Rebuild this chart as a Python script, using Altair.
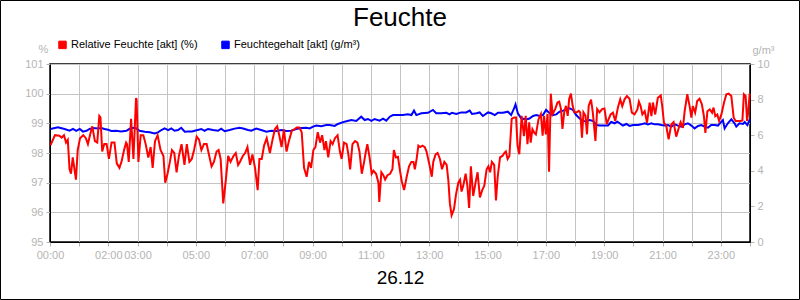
import altair as alt
import pandas as pd

# Relative humidity (%) – time in hours, value
rh_time = [0.02,0.17,0.32,0.40,0.48,0.55,0.61,0.67,0.72,0.78,0.89,0.95,1.03,1.14,1.23,1.30,1.37,1.45,1.54,1.62,
           1.69,1.73,1.79,1.86,1.94,2.02,2.11,2.21,2.29,2.38,2.45,2.54,2.61,2.64,2.70,2.78,2.86,2.95,2.97,3.03,
           3.11,3.20,3.28,3.37,3.45,3.52,3.60,3.69,3.79,3.89,3.95,4.03,4.11,4.18,4.26,4.34,4.42,4.51,4.61,4.69,
           4.78,4.86,4.94,5.03,5.11,5.19,5.28,5.37,5.46,5.54,5.62,5.71,5.78,5.85,5.94,6.03,6.11,6.19,6.29,6.37,
           6.45,6.51,6.61,6.69,6.77,6.86,6.94,7.03,7.12,7.18,7.26,7.34,7.43,7.54,7.63,7.71,7.79,7.86,7.94,8.02,
           8.11,8.19,8.29,8.38,8.46,8.55,8.63,8.71,8.80,8.88,8.95,9.03,9.10,9.18,9.26,9.33,9.41,9.46,9.54,9.62,
           9.69,9.77,9.86,9.94,10.00,10.08,10.17,10.23,10.29,10.37,10.46,10.54,10.61,10.69,10.77,10.83,10.88,10.95,11.03,11.09,
           11.18,11.26,11.29,11.36,11.43,11.49,11.57,11.66,11.74,11.79,11.86,11.93,12.00,12.06,12.14,12.23,12.31,12.39,12.46,12.51,
           12.57,12.63,12.69,12.77,12.85,12.91,13.01,13.09,13.14,13.22,13.29,13.37,13.44,13.52,13.60,13.66,13.71,13.77,13.85,13.92,
           14.00,14.06,14.11,14.17,14.25,14.31,14.37,14.43,14.51,14.59,14.66,14.74,14.82,14.89,14.97,15.03,15.09,15.15,15.23,15.29,
           15.35,15.43,15.51,15.58,15.63,15.69,15.75,15.83,15.91,15.98,16.03,16.09,16.17,16.25,16.31,16.37,16.43,16.48,16.54,16.60,
           16.66,16.75,16.83,16.89,16.94,17.00,17.06,17.11,17.17,17.23,17.32,17.40,17.46,17.52,17.57,17.63,17.69,17.75,17.80,17.86,
           17.92,17.98,18.06,18.13,18.18,18.24,18.29,18.36,18.41,18.47,18.55,18.61,18.70,18.76,18.84,18.93,19.01,19.09,19.13,19.22,
           19.30,19.38,19.47,19.55,19.62,19.70,19.78,19.87,19.95,20.04,20.14,20.19,20.25,20.31,20.39,20.47,20.56,20.62,20.67,20.75,
           20.84,20.94,20.99,21.05,21.13,21.21,21.30,21.38,21.47,21.55,21.62,21.70,21.76,21.85,21.93,21.99,22.04,22.12,22.19,22.27,
           22.35,22.42,22.47,22.54,22.62,22.70,22.75,22.81,22.88,22.94,23.02,23.11,23.19,23.27,23.36,23.44,23.51,23.59,23.67,23.74,
           23.79,23.85,23.90,23.93,23.99]
rh_value = [98.27,98.60,98.58,98.52,98.60,98.35,98.44,97.45,97.30,97.85,97.10,98.10,98.50,98.60,98.50,98.30,98.60,98.90,98.40,98.35,
            99.25,99.20,98.05,98.30,98.30,97.80,98.35,98.35,97.65,97.50,97.70,98.10,98.35,98.30,97.70,99.15,97.80,99.85,99.80,97.70,
            98.60,98.60,98.30,97.85,98.20,97.50,98.40,98.60,98.10,97.90,97.00,97.30,97.70,98.10,98.00,97.35,97.90,98.30,97.60,98.30,
            97.70,97.80,98.10,98.55,98.45,98.10,98.30,98.30,97.90,97.55,97.70,98.05,98.10,97.80,96.30,97.10,97.90,97.70,97.90,98.00,
            97.60,97.70,97.90,98.00,98.20,97.60,97.95,97.50,96.75,97.80,97.80,98.25,98.50,98.00,98.45,98.80,98.90,98.60,98.20,98.80,
            98.05,98.40,98.75,98.80,98.86,98.86,98.70,97.50,97.20,97.70,97.50,98.10,98.20,98.70,98.35,98.60,98.10,98.40,97.85,98.40,
            98.30,98.50,98.60,98.05,97.80,98.35,98.30,97.95,97.45,98.30,98.40,98.35,98.05,97.30,97.70,98.05,98.30,97.90,97.30,97.40,
            97.30,97.00,96.35,97.35,97.25,97.10,97.25,97.30,97.45,98.10,97.85,97.87,97.40,97.05,96.75,97.20,97.55,97.70,97.70,97.45,
            97.80,98.25,98.20,98.25,98.20,98.05,97.60,97.20,97.70,97.95,98.00,97.80,97.45,97.70,97.60,97.05,96.30,95.90,96.10,96.60,
            97.00,97.10,96.70,96.90,97.30,96.90,96.15,97.55,96.55,97.00,97.35,96.50,96.75,96.90,97.45,97.55,97.35,97.70,97.60,96.40,
            97.20,97.85,97.90,98.00,98.05,97.80,97.90,99.15,99.20,99.20,98.25,97.96,99.25,98.57,99.25,98.30,99.03,98.35,98.80,98.69,
            98.63,99.14,99.31,98.58,99.25,98.63,99.31,97.37,100.00,99.31,99.48,99.70,99.73,99.48,98.81,99.37,99.59,99.25,99.82,100.00,
            99.59,99.37,99.37,99.42,99.37,98.52,99.37,99.25,98.63,99.59,99.80,99.37,98.41,99.48,99.37,99.48,99.50,98.97,99.08,99.30,
            99.36,99.08,99.53,99.81,99.58,99.81,99.92,99.83,99.36,99.30,99.47,99.73,99.58,99.30,99.41,99.02,99.70,99.24,99.70,99.30,
            99.86,99.94,99.58,99.02,98.91,98.46,98.96,99.04,98.55,98.82,99.04,98.85,99.41,99.98,99.58,99.19,99.58,99.36,99.75,99.83,
            99.64,99.24,98.68,99.41,99.47,99.36,99.53,99.24,99.30,99.08,99.30,99.70,99.98,100.00,99.92,99.19,99.08,99.08,99.08,99.10,
            99.98,99.92,99.08,99.30,100.00]

# Absolute humidity (g/m³) – time in hours, value
ah_time = [0.02,0.27,0.50,0.67,0.79,0.90,1.02,1.13,1.25,1.36,1.47,1.65,1.76,1.87,1.99,2.10,2.27,2.44,2.62,2.73,
           2.85,2.96,3.07,3.25,3.42,3.59,3.70,3.82,3.93,4.05,4.16,4.27,4.39,4.50,4.62,4.73,4.87,4.96,5.19,5.30,
           5.42,5.59,5.76,5.87,5.99,6.16,6.33,6.50,6.62,6.79,6.90,7.07,7.24,7.42,7.59,7.76,7.93,8.10,8.27,8.44,
           8.62,8.79,8.90,9.02,9.13,9.30,9.47,9.59,9.76,9.87,10.10,10.33,10.50,10.67,10.79,10.90,11.02,11.13,11.30,11.42,
           11.53,11.65,11.76,11.93,12.10,12.27,12.39,12.48,12.56,12.73,12.96,13.13,13.24,13.41,13.59,13.70,13.78,13.93,14.10,14.27,
           14.39,14.47,14.62,14.73,14.84,15.02,15.13,15.25,15.36,15.53,15.70,15.81,15.91,15.96,16.04,16.16,16.33,16.44,16.56,16.67,
           16.79,16.90,17.01,17.13,17.24,17.36,17.47,17.59,17.70,17.82,17.93,18.04,18.16,18.27,18.39,18.50,18.62,18.73,18.85,19.02,
           19.13,19.24,19.36,19.45,19.53,19.64,19.76,19.87,19.99,20.16,20.27,20.39,20.50,20.62,20.73,20.84,20.96,21.07,21.19,21.30,
           21.42,21.53,21.64,21.76,21.87,21.99,22.10,22.22,22.33,22.44,22.56,22.67,22.79,22.90,23.02,23.07,23.13,23.24,23.36,23.47,
           23.53,23.64,23.76,23.82,23.91,23.99]
ah_value = [6.35,6.44,6.35,6.25,6.35,6.24,6.35,6.20,6.25,6.35,6.40,6.38,6.40,6.35,6.31,6.24,6.25,6.21,6.25,6.36,
            6.42,6.38,6.25,6.20,6.16,6.10,6.16,6.29,6.38,6.29,6.38,6.25,6.29,6.42,6.20,6.21,6.21,6.25,6.35,6.25,
            6.35,6.29,6.25,6.37,6.22,6.29,6.37,6.42,6.38,6.29,6.25,6.37,6.29,6.20,6.25,6.24,6.29,6.24,6.25,6.35,
            6.40,6.42,6.38,6.48,6.54,6.50,6.57,6.57,6.52,6.63,6.76,6.85,6.80,7.04,6.85,6.91,6.80,6.91,6.82,6.93,
            6.82,7.04,7.13,7.13,7.13,7.17,7.13,7.38,7.13,7.23,7.26,7.42,7.23,7.23,7.26,7.17,7.26,7.19,7.28,7.28,
            7.38,7.19,7.23,7.28,7.08,7.28,7.23,7.13,7.26,7.26,7.32,7.13,7.50,7.73,7.23,6.94,6.89,6.94,7.08,7.13,
            7.08,7.13,7.42,7.23,7.13,7.17,7.32,7.38,7.45,7.51,7.42,7.13,6.94,6.80,6.78,6.85,6.80,6.57,6.55,6.54,
            6.55,6.74,6.67,6.76,6.67,6.54,6.63,6.52,6.57,6.57,6.61,6.67,6.61,6.67,6.61,6.61,6.57,6.54,6.57,6.48,
            6.61,6.54,6.48,6.61,6.67,6.54,6.38,6.52,6.57,6.48,6.42,6.57,6.57,6.54,6.76,6.85,6.38,6.67,6.89,6.67,
            6.48,6.67,6.63,6.74,6.57,6.89]

series_names = ["Relative Feuchte [akt] (%)", "Feuchtegehalt [akt] (g/m³)"]
series_colors = ["#ff0000", "#0000ff"]

x_hours = list(range(0, 25))
x_label_hours = [0, 2, 3, 5, 7, 9, 11, 13, 15, 17, 19, 21, 23]
rh_ticks = [95, 96, 97, 98, 99, 100, 101]
ah_ticks = [0, 2, 4, 6, 8, 10]

rh_df = pd.DataFrame({"t": rh_time, "v": rh_value, "series": series_names[0]})
ah_df = pd.DataFrame({"t": ah_time, "v": ah_value, "series": series_names[1]})

FONT = "Liberation Sans"
GRAY = "#b4b4b4"

label_list = ",".join(str(h) for h in x_label_hours)
label_expr = (f"indexof([{label_list}], datum.value) >= 0 ? "
              "(datum.value < 10 ? '0' : '') + datum.value + ':00' : ''")

x_enc = alt.X("t:Q", scale=alt.Scale(domain=[0, 24], nice=False, zero=False),
              axis=alt.Axis(values=x_hours, labelExpr=label_expr, grid=True,
                            title="26.12", titleFont=FONT, titleFontSize=19,
                            titleFontWeight="normal", titleColor="black",
                            titleBaseline="middle", titleY=35, titleX=350,
                            labelFlush=False, labelOverlap=False))

color_scale = alt.Scale(domain=series_names, range=series_colors)

rh_line = alt.Chart(rh_df).mark_line(strokeWidth=2, interpolate="linear").encode(
    x=x_enc,
    y=alt.Y("v:Q", scale=alt.Scale(domain=[95, 101], nice=False, zero=False),
            axis=alt.Axis(values=rh_ticks, grid=True, title="%", titleAngle=0,
                          titleX=-7, titleY=-15, titleAlign="center", titleBaseline="middle",
                          titleColor=GRAY, titleFont=FONT, titleFontSize=11,
                          titleFontWeight="normal", labelFlush=False)),
    color=alt.Color("series:N", scale=color_scale, legend=None),
)

ah_line = alt.Chart(ah_df).mark_line(strokeWidth=2, interpolate="linear").encode(
    x=x_enc,
    y=alt.Y("v:Q", scale=alt.Scale(domain=[0, 10], nice=False, zero=False),
            axis=alt.Axis(values=ah_ticks, grid=False, orient="right", title="g/m³",
                          titleAngle=0, titleX=13, titleY=-14, titleAlign="center",
                          titleBaseline="middle", titleColor=GRAY, titleFont=FONT,
                          titleFontSize=11, titleFontWeight="normal", labelFlush=False)),
    color=alt.Color("series:N", scale=color_scale, legend=None),
)

# legend-only layer (no data rows; the legend lists the explicit colour domain)
legend_layer = alt.Chart(alt.Data(values=[])).mark_square(
    filled=True, stroke="#202020", strokeWidth=1, opacity=1
).encode(
    color=alt.Color("series:N", scale=color_scale,
                    legend=alt.Legend(orient="none", direction="horizontal",
                                      legendX=7, legendY=-25, title=None,
                                      symbolType="square", symbolSize=56,
                                      symbolStrokeWidth=1, symbolStrokeColor="#202020",
                                      symbolOpacity=1,
                                      labelFont=FONT, labelFontSize=11, labelColor="black",
                                      labelOffset=3, columnPadding=21)),
)

border = alt.Chart(alt.Data(values=[{"k": 0}])).mark_rect(
    fill=None, stroke="black", strokeWidth=1, clip=False
).encode(x=alt.value(-49.5), x2=alt.value(749.5), y=alt.value(-63.5), y2=alt.value(235.5))

chart = alt.layer(legend_layer, ah_line, rh_line, border).resolve_scale(y="independent").properties(
    width=700, height=178,
    autosize=alt.AutoSizeParams(type="none"),
    padding={"left": 50, "top": 64, "right": 50, "bottom": 58},
    background="white",
    title=alt.TitleParams("Feuchte", font=FONT, fontSize=26, fontWeight="normal",
                          color="black", anchor="middle", frame="group",
                          baseline="alphabetic", offset=0, dy=52),
).configure_axis(
    labelFont=FONT, labelFontSize=11, labelColor=GRAY,
    tickColor=GRAY, tickSize=4, labelPadding=3,
    domainColor="black", domainWidth=1,
    gridColor="#c4c4c4", gridWidth=1,
).configure_view(stroke="black", strokeWidth=1.5)

chart.save("out.html", embed_options={"renderer": "svg", "actions": False})
